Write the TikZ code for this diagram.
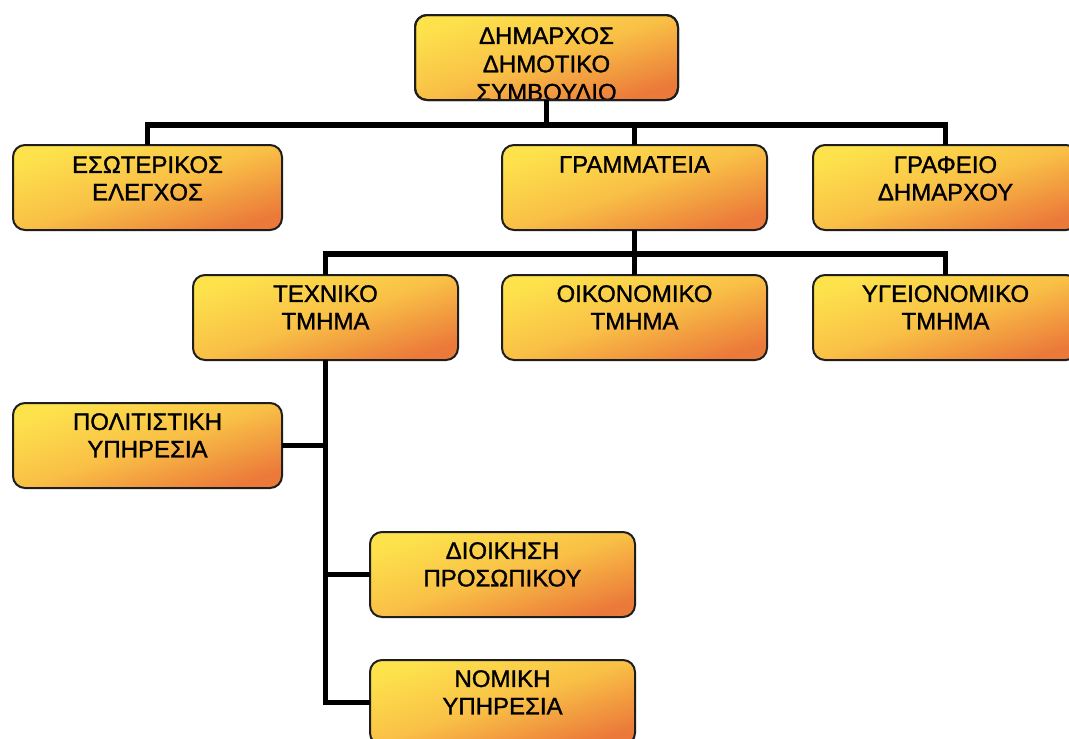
\documentclass[tikz,border=0pt]{standalone}
\usepackage{fontspec}
\setmainfont{Liberation Sans}
\newfontfamily\lblfont{Liberation Sans}[FakeBold=1.2]
\definecolor{byel}{RGB}{253,226,76}
\definecolor{bmid}{RGB}{249,192,70}
\definecolor{bora}{RGB}{235,122,58}
\definecolor{bline}{RGB}{30,30,30}
\begin{document}
\begin{tikzpicture}[x=1pt,y=-1pt,
  box/.style={draw=bline, line width=2pt, rounded corners=12pt, outer sep=0pt,
    top color=byel, bottom color=bora, middle color=bmid, shading angle=18,
    inner sep=0pt, anchor=north west, minimum width=265pt, minimum height=85pt},
  lbl/.style={font=\lblfont\fontsize{24}{27.5}\selectfont, align=center, inner sep=0pt, anchor=north, text=black},
  conn/.style={line width=5.5pt, draw=black, line join=miter}
]
\useasboundingbox (0,0) rectangle (1069,739);
\clip (0,0) rectangle (1069,739);
\fill[white] (0,0) rectangle (1069,739);

% boxes
\node[box, minimum width=263pt] (dim) at (415,15) {};
\node[box, minimum width=269pt] (esot) at (13,145) {};
\node[box] (gram) at (502,145) {};
\node[box] (grdim) at (813,145) {};
\node[box] (texn) at (193,275) {};
\node[box] (oik) at (502,275) {};
\node[box] (ygei) at (813,275) {};
\node[box, minimum width=269pt] (pol) at (13,403) {};
\node[box] (dioik) at (370,532) {};
\node[box] (nom) at (370,660) {};

% labels
\begin{scope}
  \clip[rounded corners=12pt] (dim.north west) rectangle (dim.south east);
  \node[lbl, font=\lblfont\fontsize{24}{28.3}\selectfont] (dimt) at ([yshift=-12pt]dim.north) {ΔΗΜΑΡΧΟΣ\\ΔΗΜΟΤΙΚΟ\\ΣΥΜΒΟΥΛΙΟ};
\end{scope}
\draw[bline, line width=2pt, rounded corners=12pt] (dim.north west) rectangle (dim.south east);
\node[lbl] (esott) at ([yshift=-11pt]esot.north) {ΕΣΩΤΕΡΙΚΟΣ\\ΕΛΕΓΧΟΣ};
\node[lbl] (gramt) at ([yshift=-11pt]gram.north) {ΓΡΑΜΜΑΤΕΙΑ};
\node[lbl] (grdimt) at ([yshift=-11pt]grdim.north) {ΓΡΑΦΕΙΟ\\ΔΗΜΑΡΧΟΥ};
\node[lbl] (texnt) at ([yshift=-10pt]texn.north) {ΤΕΧΝΙΚΟ\\ΤΜΗΜΑ};
\node[lbl] (oikt) at ([yshift=-10pt]oik.north) {ΟΙΚΟΝΟΜΙΚΟ\\ΤΜΗΜΑ};
\node[lbl] (ygeit) at ([yshift=-10pt]ygei.north) {ΥΓΕΙΟΝΟΜΙΚΟ\\ΤΜΗΜΑ};
\node[lbl] (polt) at ([yshift=-10pt]pol.north) {ΠΟΛΙΤΙΣΤΙΚΗ\\ΥΠΗΡΕΣΙΑ};
\node[lbl] (dioikt) at ([yshift=-10pt]dioik.north) {ΔΙΟΙΚΗΣΗ\\ΠΡΟΣΩΠΙΚΟΥ};
\node[lbl] (nomt) at ([yshift=-10pt]nom.north) {ΝΟΜΙΚΗ\\ΥΠΗΡΕΣΙΑ};

% connectors
\coordinate (bus1) at (dim.south |- 0,125);
\coordinate (bus2) at (gram.south |- 0,254);
\draw[conn] (dim.south) -- (bus1);
\draw[conn] (esot.north) |- (bus1) -| (grdim.north);
\draw[conn] (gram.north) -- (gram.north |- bus1);
\draw[conn] (gram.south) -- (bus2);
\draw[conn] (texn.north) |- (bus2) -| (ygei.north);
\draw[conn] (oik.north) -- (oik.north |- bus2);
\draw[conn] (texn.south) |- (nom.west);
\draw[conn] (pol.east) -- (pol.east -| texn.south);
\draw[conn] (dioik.west) -- (dioik.west -| texn.south);
\end{tikzpicture}
\end{document}
